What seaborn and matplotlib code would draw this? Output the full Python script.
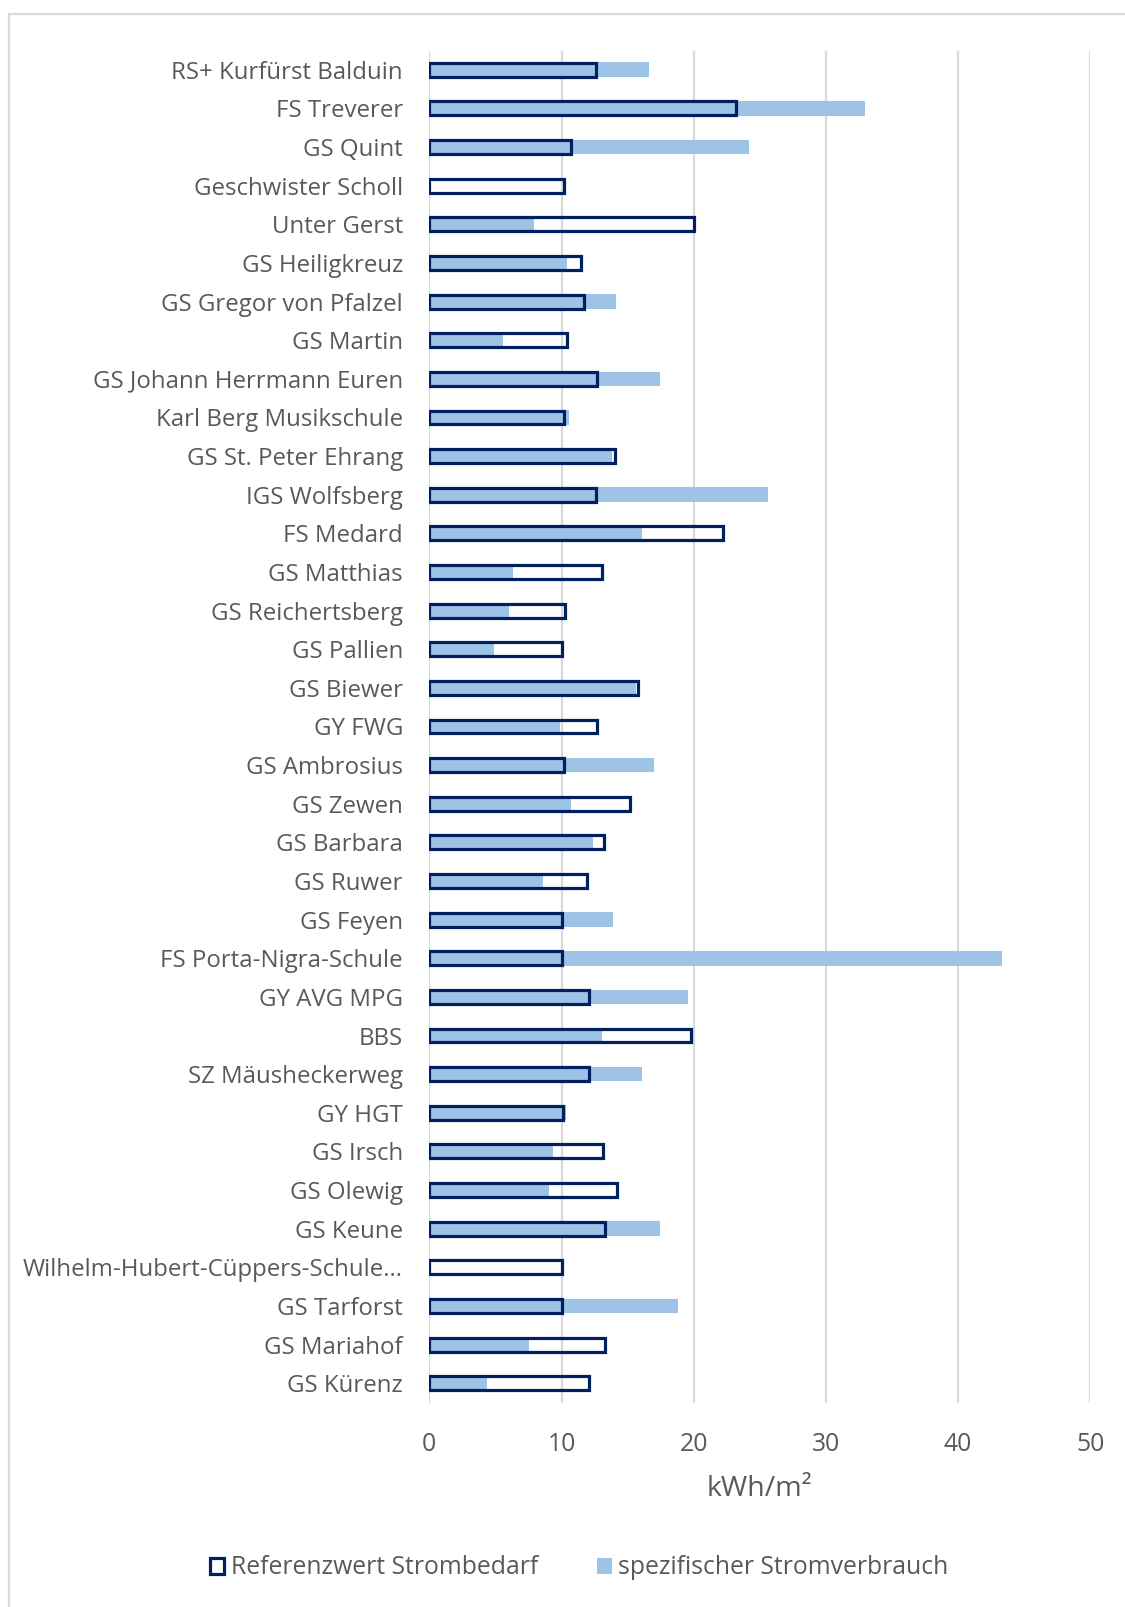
import matplotlib
matplotlib.use("Agg")
import matplotlib.pyplot as plt
import seaborn as sns
import pandas as pd
from matplotlib.patches import Patch, Rectangle

schools = [
    "RS+ Kurfürst Balduin", "FS Treverer", "GS Quint", "Geschwister Scholl",
    "Unter Gerst", "GS Heiligkreuz", "GS Gregor von Pfalzel", "GS Martin",
    "GS Johann Herrmann Euren", "Karl Berg Musikschule", "GS St. Peter Ehrang",
    "IGS Wolfsberg", "FS Medard", "GS Matthias", "GS Reichertsberg",
    "GS Pallien", "GS Biewer", "GY FWG", "GS Ambrosius", "GS Zewen",
    "GS Barbara", "GS Ruwer", "GS Feyen", "FS Porta-Nigra-Schule",
    "GY AVG MPG", "BBS", "SZ Mäusheckerweg", "GY HGT", "GS Irsch",
    "GS Olewig", "GS Keune", "Wilhelm-Hubert-Cüppers-Schule...",
    "GS Tarforst", "GS Mariahof", "GS Kürenz",
]
referenzwert = [
    12.6, 23.2, 10.7, 10.2, 20.0, 11.5, 11.7, 10.4, 12.7, 10.2, 14.05,
    12.6, 22.25, 13.05, 10.3, 10.0, 15.75, 12.7, 10.2, 15.2, 13.25, 11.9,
    10.0, 10.0, 12.1, 19.8, 12.1, 10.1, 13.15, 14.2, 13.3, 10.0, 10.0,
    13.3, 12.05,
]
verbrauch = [
    16.6, 32.95, 24.2, 0.0, 7.9, 10.4, 14.15, 5.6, 17.45, 10.6, 13.8,
    25.65, 16.1, 6.3, 6.05, 4.9, 15.65, 9.9, 17.0, 10.7, 12.35, 8.6,
    13.9, 43.3, 19.6, 13.05, 16.1, 10.35, 9.35, 9.05, 17.45, 0.0, 18.85,
    7.55, 4.4,
]
x_ticks = [0, 10, 20, 30, 40, 50]
x_label = "kWh/m²"
legend_labels = ["Referenzwert Strombedarf", "spezifischer Stromverbrauch"]

NAVY = "#002060"
LIGHT = "#9DC3E6"
GRID = "#D9D9D9"
TEXT = "#595959"

sns.set_theme(style="white")
plt.rcParams["font.family"] = ["Open Sans", "DejaVu Sans"]
FS = 17.8
FS_Y = 17.3

df = pd.DataFrame({"Schule": schools, "Referenz": referenzwert, "Verbrauch": verbrauch})

fig = plt.figure(figsize=(11.25, 16.07), dpi=100)
ax = fig.add_axes([429.3 / 1125, 1 - 1402.5 / 1607, (1090.3 - 429.3) / 1125, (1402.5 - 50.5) / 1607])

sns.barplot(data=df, x="Verbrauch", y="Schule", orient="h", color=LIGHT,
            width=0.38, ax=ax, linewidth=0, saturation=1, zorder=2)
sns.barplot(data=df, x="Referenz", y="Schule", orient="h", width=0.36, ax=ax,
            facecolor="none", edgecolor=NAVY, linewidth=2.3, zorder=3)

ax.set_xlim(0, 50)
ax.set_ylim(len(schools) - 0.5, -0.5)
ax.set_xticks(x_ticks)
ax.set_xticklabels([str(t) for t in x_ticks])
ax.xaxis.grid(True, color=GRID, linewidth=1.6, zorder=0)
ax.yaxis.grid(False)
ax.set_axisbelow(True)
for s in ax.spines.values():
    s.set_visible(False)
ax.tick_params(axis="both", length=0, colors=TEXT)
ax.tick_params(axis="x", pad=21, labelsize=FS)
ax.tick_params(axis="y", pad=19, labelsize=FS_Y)
ax.set_ylabel("")
ax.set_xlabel(x_label, fontsize=20.5, color=TEXT, labelpad=13)

handles = [
    Patch(facecolor="white", edgecolor=NAVY, linewidth=2.3),
    Patch(facecolor=LIGHT, edgecolor="none"),
]
fig.legend(handles, legend_labels, loc="center", ncol=2, frameon=False,
           bbox_to_anchor=(579 / 1125, 1 - 1568 / 1607), fontsize=FS,
           labelcolor=TEXT, handlelength=0.6, handleheight=0.6,
           handletextpad=0.25, columnspacing=2.4)

fig.add_artist(Rectangle((9 / 1125, -0.05), 1.1, 1.05 - 14.3 / 1607,
                         transform=fig.transFigure, fill=False,
                         edgecolor=GRID, linewidth=1.6))

fig.savefig("out.png", dpi=100, facecolor="white")
